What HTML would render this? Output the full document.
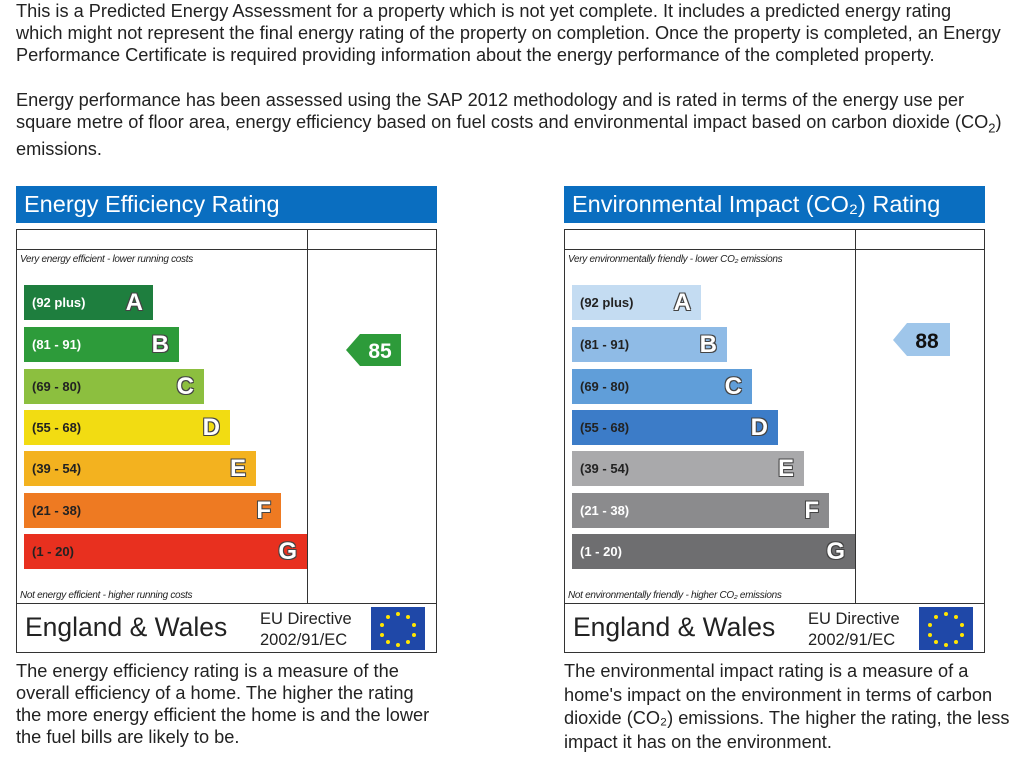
<!DOCTYPE html>
<html><head><meta charset="utf-8"><style>
body{margin:0;width:1024px;height:768px;background:#fff;font-family:"Liberation Sans",sans-serif;position:relative;overflow:hidden;color:#222}
.p{position:absolute;font-size:18.2px;line-height:22px;left:16px;margin:0;white-space:nowrap}
.a{position:absolute}
.hd{position:absolute;top:186px;height:37px;width:421px;background:#0a6ec0;color:#fff;font-size:23.5px;line-height:36px;padding-left:8px;box-sizing:border-box}
.ln{position:absolute;background:#333}
.bar{position:absolute;height:35px;font-weight:bold;font-size:13px;line-height:35px;color:#222;box-sizing:border-box;padding-left:8px}
.bar b{position:absolute;right:10px;top:0;font-size:24px;color:#fff;font-weight:bold;text-shadow:-1px -1px 0 #444,1px -1px 0 #444,-1px 1px 0 #444,1px 1px 0 #444}
.it{position:absolute;font-size:10px;font-style:italic;color:#222;letter-spacing:-0.3px}
.ew{position:absolute;font-size:26.5px;top:612px}
.eu{position:absolute;font-size:16.5px;line-height:21px;top:609px}
.flag{position:absolute;top:607px;width:54px;height:43px;background:#1f48a8}
.flag span{position:absolute;width:4px;height:4px;background:#ffe500;border-radius:50%}
</style></head><body>
<p class="p" style="top:0">This is a Predicted Energy Assessment for a property which is not yet complete. It includes a predicted energy rating<br>which might not represent the final energy rating of the property on completion. Once the property is completed, an Energy<br>Performance Certificate is required providing information about the energy performance of the completed property.</p>
<p class="p" style="top:89px">Energy performance has been assessed using the SAP 2012 methodology and is rated in terms of the energy use per<br>square metre of floor area, energy efficiency based on fuel costs and environmental impact based on carbon dioxide (CO<sub style="font-size:13px">2</sub>)</p>
<p class="p" style="top:138px">emissions.</p>

<!-- LEFT -->
<div class="hd" style="left:16px">Energy Efficiency Rating</div>
<div class="ln" style="left:16px;top:229px;width:421px;height:1px"></div>
<div class="ln" style="left:16px;top:249px;width:421px;height:1px"></div>
<div class="ln" style="left:16px;top:603px;width:421px;height:1px"></div>
<div class="ln" style="left:16px;top:652px;width:421px;height:1px"></div>
<div class="ln" style="left:16px;top:229px;width:1px;height:424px"></div>
<div class="ln" style="left:436px;top:229px;width:1px;height:424px"></div>
<div class="ln" style="left:307px;top:229px;width:1px;height:374px"></div>
<div class="it" style="left:20px;top:254px">Very energy efficient - lower running costs</div>
<div class="it" style="left:20px;top:590px">Not energy efficient - higher running costs</div>
<div class="bar" style="left:24px;top:285px;width:129px;background:#1e7e3e;color:#fff">(92 plus)<b>A</b></div>
<div class="bar" style="left:24px;top:327px;width:155px;background:#2d9b3a;color:#fff">(81 - 91)<b>B</b></div>
<div class="bar" style="left:24px;top:369px;width:180px;background:#8cbf3f">(69 - 80)<b>C</b></div>
<div class="bar" style="left:24px;top:410px;width:206px;background:#f2dc12">(55 - 68)<b>D</b></div>
<div class="bar" style="left:24px;top:451px;width:232px;background:#f3b21f">(39 - 54)<b>E</b></div>
<div class="bar" style="left:24px;top:493px;width:257px;background:#ee7a22">(21 - 38)<b>F</b></div>
<div class="bar" style="left:24px;top:534px;width:283px;background:#e8301f">(1 - 20)<b>G</b></div>
<svg class="a" style="left:346px;top:334px" width="56" height="33"><polygon points="0,16 14,0 55,0 55,32 14,32" fill="#2d9b3a"/><text x="34" y="24" font-family="Liberation Sans" font-weight="bold" font-size="21" fill="#fff" text-anchor="middle">85</text></svg>
<div class="ew" style="left:25px">England &amp; Wales</div>
<div class="eu" style="left:260px">EU Directive<br>2002/91/EC</div>
<div class="flag" style="left:371px"><span style="left:25px;top:5px"></span><span style="left:35px;top:8px"></span><span style="left:41px;top:16px"></span><span style="left:41px;top:26px"></span><span style="left:35px;top:33px"></span><span style="left:25px;top:36px"></span><span style="left:15px;top:33px"></span><span style="left:9px;top:26px"></span><span style="left:9px;top:16px"></span><span style="left:15px;top:8px"></span></div>
<p class="p" style="top:660px">The energy efficiency rating is a measure of the<br>overall efficiency of a home. The higher the rating<br>the more energy efficient the home is and the lower<br>the fuel bills are likely to be.</p>

<!-- RIGHT -->
<div class="hd" style="left:564px">Environmental Impact (CO₂) Rating</div>
<div class="ln" style="left:564px;top:229px;width:421px;height:1px"></div>
<div class="ln" style="left:564px;top:249px;width:421px;height:1px"></div>
<div class="ln" style="left:564px;top:603px;width:421px;height:1px"></div>
<div class="ln" style="left:564px;top:652px;width:421px;height:1px"></div>
<div class="ln" style="left:564px;top:229px;width:1px;height:424px"></div>
<div class="ln" style="left:984px;top:229px;width:1px;height:424px"></div>
<div class="ln" style="left:855px;top:229px;width:1px;height:374px"></div>
<div class="it" style="left:568px;top:254px">Very environmentally friendly - lower CO₂ emissions</div>
<div class="it" style="left:568px;top:590px">Not environmentally friendly - higher CO₂ emissions</div>
<div class="bar" style="left:572px;top:285px;width:129px;background:#c4dcf2">(92 plus)<b>A</b></div>
<div class="bar" style="left:572px;top:327px;width:155px;background:#8fbbe6">(81 - 91)<b>B</b></div>
<div class="bar" style="left:572px;top:369px;width:180px;background:#609ed9">(69 - 80)<b>C</b></div>
<div class="bar" style="left:572px;top:410px;width:206px;background:#3c7cc8">(55 - 68)<b>D</b></div>
<div class="bar" style="left:572px;top:451px;width:232px;background:#a9a9ab">(39 - 54)<b>E</b></div>
<div class="bar" style="left:572px;top:493px;width:257px;background:#8b8b8d;color:#fff">(21 - 38)<b>F</b></div>
<div class="bar" style="left:572px;top:534px;width:283px;background:#6e6e70;color:#fff">(1 - 20)<b>G</b></div>
<svg class="a" style="left:893px;top:323px" width="58" height="34"><polygon points="0,17 14,0 57,0 57,33 14,33" fill="#9fc6ea"/><text x="34" y="25" font-family="Liberation Sans" font-weight="bold" font-size="21" fill="#111" text-anchor="middle">88</text></svg>
<div class="ew" style="left:573px">England &amp; Wales</div>
<div class="eu" style="left:808px">EU Directive<br>2002/91/EC</div>
<div class="flag" style="left:919px"><span style="left:25px;top:5px"></span><span style="left:35px;top:8px"></span><span style="left:41px;top:16px"></span><span style="left:41px;top:26px"></span><span style="left:35px;top:33px"></span><span style="left:25px;top:36px"></span><span style="left:15px;top:33px"></span><span style="left:9px;top:26px"></span><span style="left:9px;top:16px"></span><span style="left:15px;top:8px"></span></div>
<p class="p" style="top:660px;left:564px;line-height:23.5px">The environmental impact rating is a measure of a<br>home's impact on the environment in terms of carbon<br>dioxide (CO₂) emissions. The higher the rating, the less<br>impact it has on the environment.</p>
</body></html>
